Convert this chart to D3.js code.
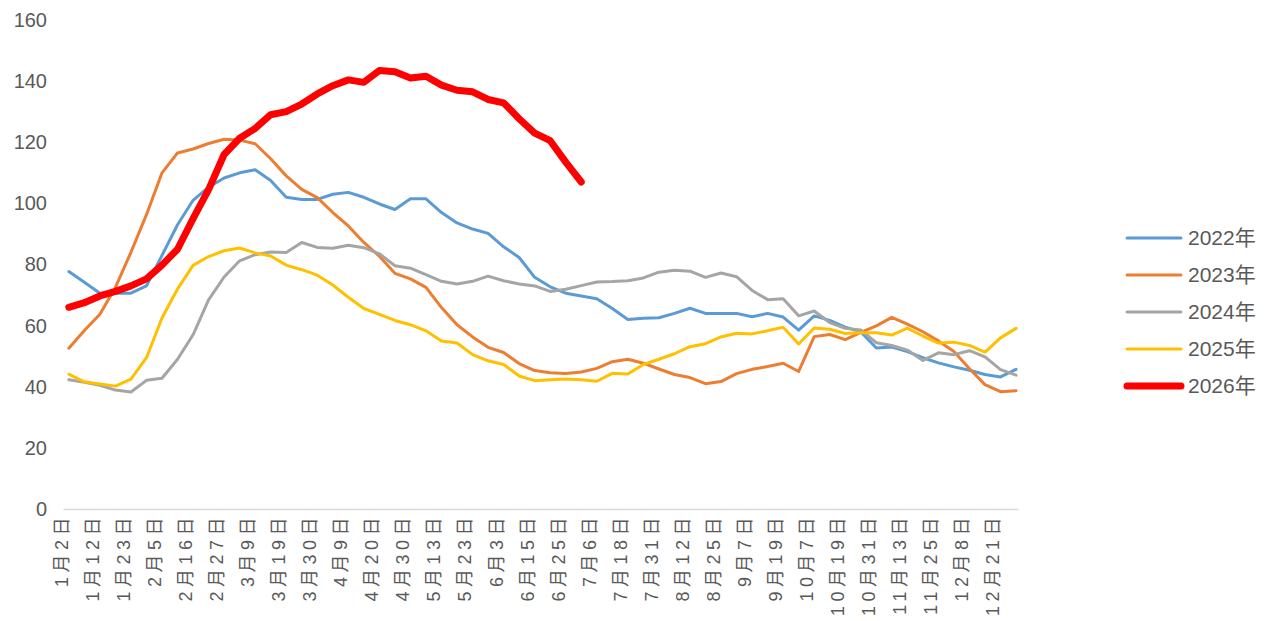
<!DOCTYPE html>
<html>
<head>
<meta charset="utf-8">
<script src="https://cdn.jsdelivr.net/npm/d3@7"></script>
<style>
  body { margin: 0; background: #fff; }
  svg text { fill: #595959; font-family: "Liberation Sans", "Noto Sans CJK SC", sans-serif; }
</style>
</head>
<body>
<div id="chart"></div>
<script>
// trading-day categories, labelled every 8th
const categoryCount = 246
const labelStep = 8
const sampleStep = 4
const sampleOffset = 1

const tickLabels = [
  '1月2日', '1月12日', '1月23日', '2月5日', '2月16日', '2月27日', '3月9日', '3月19日',
  '3月30日', '4月9日', '4月20日', '4月30日', '5月13日', '5月23日', '6月3日', '6月15日',
  '6月25日', '7月6日', '7月18日', '7月31日', '8月12日', '8月25日', '9月7日', '9月19日',
  '10月7日', '10月19日', '10月31日', '11月13日', '11月25日', '12月8日', '12月21日',
]

const yTicks = [0, 20, 40, 60, 80, 100, 120, 140, 160]

const years = ['2022年', '2023年', '2024年', '2025年', '2026年']
const colors = ['#5B9BD5', '#ED7D31', '#A5A5A5', '#FFC000', '#FF0000']

const v2022 = [
  77.7, 74.2, 70.6, 70.6, 70.6, 73, 83, 93, 101, 105.3, 108.3, 110, 111, 107.5, 102, 101.3,
  101.3, 103, 103.6, 102, 99.8, 98, 101.5, 101.5, 97, 93.6, 91.6, 90.2, 85.8, 82.3, 75.8, 72.7,
  70.6, 69.7, 68.8, 65.6, 62, 62.4, 62.6, 64, 65.7, 64, 64, 64, 62.9, 64, 62.8, 58.5,
  63.2, 61.7, 59.5, 58, 52.7, 53, 51.5, 49.5, 47.8, 46.5, 45.4, 44, 43.2, 45.7,
]
const v2023 = [
  52.6, 58.4, 63.7, 72.5, 84, 96.3, 110, 116.5, 117.8, 119.6, 121, 120.7, 119.5, 114.6, 109, 104.6,
  101.9, 97, 92.6, 87.2, 82.7, 77.1, 75.3, 72.5, 65.9, 60.3, 56.3, 52.9, 51.2, 47.6, 45.3, 44.6,
  44.3, 44.8, 46, 48.2, 49, 47.7, 45.8, 44, 43, 41, 41.7, 44.3, 45.7, 46.6, 47.7, 45,
  56.4, 57.1, 55.4, 57.8, 59.9, 62.7, 60.5, 58, 55, 51.5, 45.9, 40.7, 38.4, 38.7,
]
const v2024 = [
  42.3, 41.5, 40.5, 38.9, 38.3, 42.1, 42.8, 49, 57, 68.4, 75.9, 81.2, 83.2, 84.1, 83.9, 87.2,
  85.6, 85.3, 86.3, 85.5, 83.5, 79.6, 78.8, 76.7, 74.5, 73.6, 74.5, 76.2, 74.7, 73.6, 73, 71.2,
  71.9, 73.1, 74.3, 74.4, 74.7, 75.6, 77.5, 78.1, 77.8, 75.8, 77.2, 76, 71.5, 68.5, 68.8, 63.2,
  64.8, 61, 59.1, 58.6, 54.4, 53.5, 52, 48.6, 51.1, 50.5, 51.8, 49.8, 45.6, 43.8,
]
const v2025 = [
  44.1, 41.6, 40.9, 40.2, 42.5, 49.5, 62.5, 72, 79.7, 82.6, 84.5, 85.4, 83.8, 82.8, 79.8, 78.3,
  76.5, 73.3, 69.3, 65.6, 63.7, 61.7, 60.3, 58.3, 55, 54.3, 50.5, 48.5, 47.3, 43.5, 42, 42.3,
  42.5, 42.3, 41.8, 44.4, 44.2, 47.3, 49, 50.8, 53.1, 54.1, 56.3, 57.5, 57.3, 58.3, 59.5, 54,
  59.2, 58.8, 57.4, 57.7, 57.7, 56.9, 59.2, 56.6, 54.3, 54.6, 53.5, 51.3, 56, 59.1,
]
const v2026 = [
  66, 67.5, 69.7, 71.2, 73, 75.3, 79.8, 85, 95, 104.5, 116, 121.3, 124.5, 129, 130, 132.5,
  135.8, 138.5, 140.4, 139.6, 143.5, 143.1, 141, 141.6, 138.7, 137, 136.5, 134, 132.9, 127.7, 123, 120.5,
  113.5, 107,
]

const series = [v2022, v2023, v2024, v2025, v2026]

const draw = () => {
  const width = 1266
  const height = 621
  const margin = { left: 63, right: 248, top: 20, bottom: 112 }

  const svg = d3
    .select('#chart')
    .append('svg')
    .attr('width', width)
    .attr('height', height)

  const x = d3
    .scaleBand()
    .domain(d3.range(categoryCount))
    .range([margin.left, width - margin.right])

  const y = d3
    .scaleLinear()
    .domain([0, 160])
    .range([height - margin.bottom, margin.top])

  const cx = (i) => x(i) + x.bandwidth() / 2

  // y axis, labels only
  const yAxis = svg
    .append('g')
    .attr('transform', `translate(${margin.left},0)`)
    .call(d3.axisLeft(y).tickValues(yTicks).tickSize(0).tickPadding(16))
  yAxis.select('.domain').remove()
  yAxis.selectAll('text').style('font-size', '20px')

  // x axis with rotated date labels
  const xAxis = svg
    .append('g')
    .attr('transform', `translate(0,${height - margin.bottom})`)
    .call(d3
      .axisBottom(x)
      .tickValues(tickLabels.map((_, i) => i * labelStep))
      .tickFormat((d) => tickLabels[d / labelStep])
      .tickSize(0))
  xAxis.select('.domain').attr('stroke', '#d9d9d9').attr('stroke-width', 1.3)
  xAxis
    .selectAll('text')
    .attr('transform', 'translate(-3.5,4) rotate(-90)')
    .attr('text-anchor', 'end')
    .attr('x', 0)
    .attr('y', 0)
    .attr('dy', '0.35em')
    .style('font-size', '18px')
    .style('letter-spacing', '4.5px')

  const line = d3
    .line()
    .defined((d) => d != null)
    .x((d, i) => cx(sampleOffset + i * sampleStep))
    .y((d) => y(d))

  svg
    .append('g')
    .selectAll('path')
    .data(series)
    .enter()
    .append('path')
    .attr('d', line)
    .attr('fill', 'none')
    .attr('stroke', (d, i) => colors[i])
    .attr('stroke-width', (d, i) => i === 4 ? 7 : 3)
    .attr('stroke-linejoin', 'round')
    .attr('stroke-linecap', 'round')

  // legend
  const legend = svg
    .append('g')
    .selectAll('g')
    .data(years)
    .enter()
    .append('g')
    .attr('transform', (d, i) => `translate(1127,${238 + i * 37})`)

  legend
    .append('line')
    .attr('x1', 0)
    .attr('x2', 54)
    .attr('stroke', (d, i) => colors[i])
    .attr('stroke-width', (d, i) => i === 4 ? 7 : 3)
    .attr('stroke-linecap', 'round')

  legend
    .append('text')
    .attr('x', 61)
    .attr('dy', '0.35em')
    .style('font-size', '21px')
    .text((d) => d)
}

draw()
</script>
</body>
</html>
